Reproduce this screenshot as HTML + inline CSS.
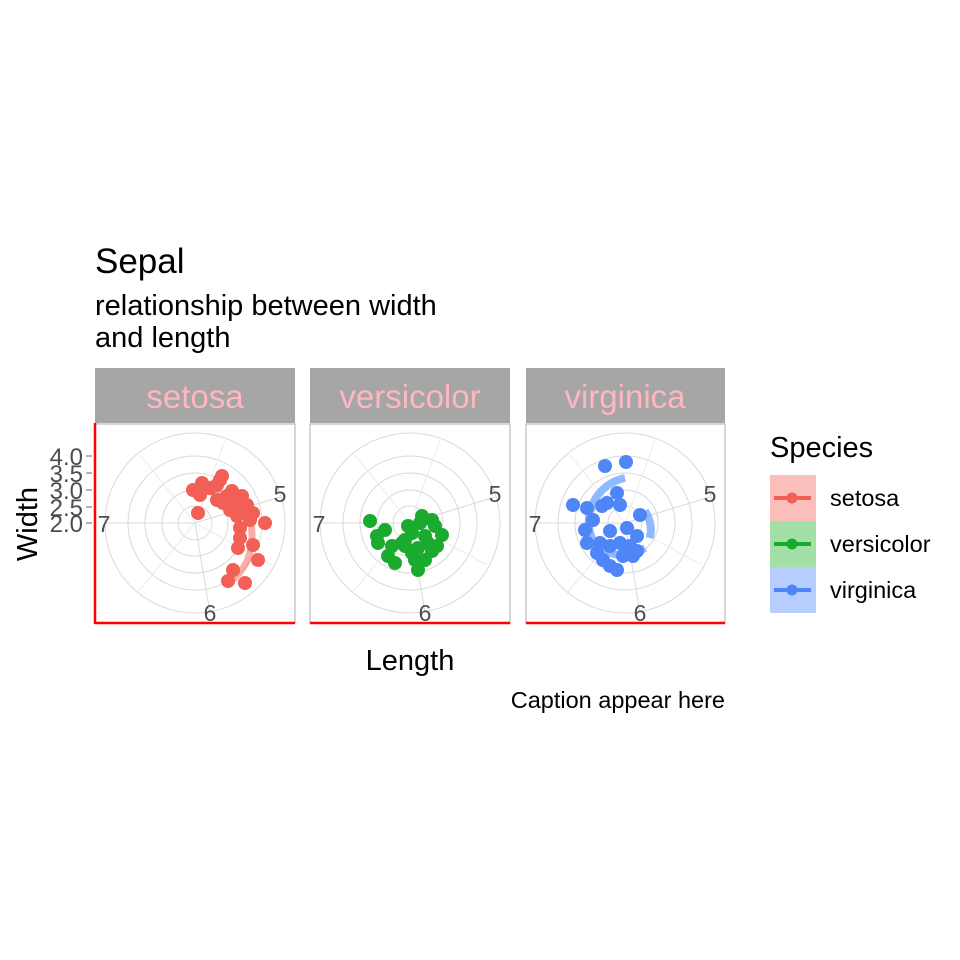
<!DOCTYPE html>
<html><head><style>body{margin:0;background:#fff}svg{display:block}text{font-family:"Liberation Sans",sans-serif}</style></head>
<body>
<svg width="960" height="960" viewBox="0 0 960 960" xmlns="http://www.w3.org/2000/svg">
<defs>
<g id="grid" fill="none" stroke="#d9d9d9" stroke-width="1">
<circle r="17"/><circle r="33"/><circle r="50"/><circle r="67"/><circle r="90"/>
<line x1="0" y1="0" x2="85" y2="-26"/>
<line x1="0" y1="0" x2="15" y2="90"/>
<line x1="0" y1="0" x2="-90" y2="0"/>
<line x1="0" y1="0" x2="30" y2="-83" stroke="#ececec"/>
<line x1="0" y1="0" x2="-55" y2="-68" stroke="#ececec"/>
<line x1="0" y1="0" x2="-57" y2="69" stroke="#ececec"/>
<line x1="0" y1="0" x2="77" y2="42" stroke="#ececec"/>
</g>
</defs>
<text x="95" y="273" font-size="35">Sepal</text>
<text x="95" y="315" font-size="29">relationship between width</text>
<text x="95" y="347" font-size="29">and length</text>
<!-- strips -->
<rect x="95" y="368" width="200" height="55" fill="#a6a6a6"/>
<rect x="310" y="368" width="200" height="55" fill="#a6a6a6"/>
<rect x="526" y="368" width="199" height="55" fill="#a6a6a6"/>
<g font-size="33" fill="#ffb6c1" text-anchor="middle">
<text x="195" y="408">setosa</text><text x="410" y="408">versicolor</text><text x="625" y="408">virginica</text>
</g>
<!-- panels -->
<g fill="none" stroke="#bfbfbf" stroke-width="1.3">
<rect x="95" y="424" width="200" height="199"/>
<rect x="310" y="424" width="200" height="199"/>
<rect x="526" y="424" width="199" height="199"/>
</g>
<use href="#grid" x="195" y="523"/>
<use href="#grid" x="410" y="523"/>
<use href="#grid" x="625" y="523"/>
<g font-size="23" fill="#4d4d4d" text-anchor="middle">
<text x="104" y="532">7</text><text x="280" y="502">5</text><text x="210" y="621">6</text>
<text x="319" y="532">7</text><text x="495" y="502">5</text><text x="425" y="621">6</text>
<text x="535" y="532">7</text><text x="710" y="502">5</text><text x="640" y="621">6</text>
</g>
<g stroke="red" stroke-width="2.5">
<line x1="95" y1="623" x2="295" y2="623"/><line x1="95" y1="423" x2="95" y2="624"/>
<line x1="310" y1="623" x2="510" y2="623"/>
<line x1="526" y1="623" x2="725" y2="623"/>
</g>
<!-- y axis -->
<g font-size="24" fill="#4d4d4d" text-anchor="end">
<text x="83" y="465">4.0</text><text x="83" y="482">3.5</text><text x="83" y="499">3.0</text><text x="83" y="516">2.5</text><text x="83" y="532">2.0</text>
</g>
<g stroke="#666" stroke-width="1"><line x1="86" y1="456" x2="92" y2="456"/><line x1="86" y1="473" x2="92" y2="473"/><line x1="86" y1="490" x2="92" y2="490"/><line x1="86" y1="507" x2="92" y2="507"/><line x1="86" y1="523" x2="92" y2="523"/></g>
<text transform="translate(37,524) rotate(-90)" font-size="29" text-anchor="middle">Width</text>
<text x="410" y="670" font-size="29" text-anchor="middle">Length</text>
<text x="725" y="708" font-size="23.5" text-anchor="end">Caption appear here</text>
<!-- setosa -->
<g transform="translate(195,523)">
<path d="M0,-33 Q55,-30 57,10 Q58,40 37,57" fill="none" stroke="#f8766d" stroke-opacity="0.6" stroke-width="7"/>
<g fill="#f25f57">
<circle cx="27" cy="-47" r="7"/><circle cx="7" cy="-40" r="7"/><circle cx="-2" cy="-33" r="7"/><circle cx="5" cy="-28" r="7"/><circle cx="22" cy="-38" r="7"/><circle cx="25" cy="-43" r="7"/><circle cx="37" cy="-32" r="7"/><circle cx="47" cy="-27" r="7"/><circle cx="52" cy="-18" r="7"/><circle cx="58" cy="-10" r="7"/><circle cx="28" cy="-20" r="7"/><circle cx="35" cy="-13" r="7"/><circle cx="42" cy="-7" r="7"/><circle cx="55" cy="-3" r="7"/><circle cx="70" cy="0" r="7"/><circle cx="45" cy="15" r="7"/><circle cx="43" cy="25" r="7"/><circle cx="58" cy="22" r="7"/><circle cx="63" cy="37" r="7"/><circle cx="38" cy="47" r="7"/><circle cx="33" cy="58" r="7"/><circle cx="50" cy="60" r="7"/><circle cx="3" cy="-10" r="7"/><circle cx="32" cy="-27" r="7"/><circle cx="22" cy="-23" r="7"/><circle cx="48" cy="-13" r="7"/><circle cx="40" cy="-20" r="7"/><circle cx="45" cy="5" r="7"/><circle cx="15" cy="-35" r="7"/>
</g></g>
<!-- versicolor -->
<g transform="translate(410,523)" fill="#1aab2e">
<circle cx="-40" cy="-2" r="7"/><circle cx="-25" cy="7" r="7"/><circle cx="-33" cy="13" r="7"/><circle cx="-32" cy="20" r="7"/><circle cx="-18" cy="23" r="7"/><circle cx="-22" cy="33" r="7"/><circle cx="-15" cy="40" r="7"/><circle cx="8" cy="47" r="7"/><circle cx="15" cy="37" r="7"/><circle cx="2" cy="30" r="7"/><circle cx="-5" cy="17" r="7"/><circle cx="2" cy="10" r="7"/><circle cx="12" cy="-7" r="7"/><circle cx="22" cy="-3" r="7"/><circle cx="25" cy="3" r="7"/><circle cx="32" cy="12" r="7"/><circle cx="27" cy="23" r="7"/><circle cx="22" cy="28" r="7"/><circle cx="8" cy="25" r="7"/><circle cx="-2" cy="3" r="7"/><circle cx="15" cy="13" r="7"/><circle cx="-5" cy="23" r="7"/><circle cx="5" cy="37" r="7"/><circle cx="-8" cy="20" r="7"/><circle cx="10" cy="0" r="7"/><circle cx="18" cy="20" r="7"/>
</g>
<!-- virginica -->
<g transform="translate(625,523)">
<path d="M0,-45 A45,45 0 0 0 -30,22 Q-5,40 20,25" fill="none" stroke="#619cff" stroke-opacity="0.7" stroke-width="8"/>
<path d="M20,-12 Q28,0 25,15" fill="none" stroke="#619cff" stroke-opacity="0.7" stroke-width="8"/>
<g fill="#4f86f7">
<circle cx="-20" cy="-57" r="7"/><circle cx="1" cy="-61" r="7"/><circle cx="-52" cy="-18" r="7"/><circle cx="-38" cy="-15" r="7"/><circle cx="-23" cy="-17" r="7"/><circle cx="-18" cy="-20" r="7"/><circle cx="-8" cy="-30" r="7"/><circle cx="-5" cy="-18" r="7"/><circle cx="-40" cy="7" r="7"/><circle cx="-38" cy="20" r="7"/><circle cx="-28" cy="30" r="7"/><circle cx="-22" cy="37" r="7"/><circle cx="-15" cy="43" r="7"/><circle cx="-8" cy="47" r="7"/><circle cx="-15" cy="8" r="7"/><circle cx="2" cy="5" r="7"/><circle cx="15" cy="-8" r="7"/><circle cx="12" cy="13" r="7"/><circle cx="-5" cy="20" r="7"/><circle cx="5" cy="23" r="7"/><circle cx="8" cy="33" r="7"/><circle cx="-2" cy="33" r="7"/><circle cx="-15" cy="23" r="7"/><circle cx="-25" cy="20" r="7"/><circle cx="12" cy="28" r="7"/><circle cx="-32" cy="-3" r="7"/>
</g></g>
<!-- legend -->
<text x="770" y="457" font-size="29">Species</text>
<rect x="770" y="475" width="46" height="46" fill="#fbbfbb"/>
<rect x="770" y="521" width="46" height="46" fill="#a3e0a8"/>
<rect x="770" y="567" width="46" height="46" fill="#b7cdfd"/>
<g stroke-width="4"><line x1="774" y1="498" x2="811" y2="498" stroke="#f25f57"/><line x1="774" y1="544" x2="811" y2="544" stroke="#1aab2e"/><line x1="774" y1="590" x2="811" y2="590" stroke="#4f86f7"/></g>
<circle cx="792" cy="498" r="5.5" fill="#f25f57"/><circle cx="792" cy="544" r="5.5" fill="#1aab2e"/><circle cx="792" cy="590" r="5.5" fill="#4f86f7"/>
<g font-size="23.5"><text x="830" y="506">setosa</text><text x="830" y="552">versicolor</text><text x="830" y="598">virginica</text></g>
</svg>
</body></html>
